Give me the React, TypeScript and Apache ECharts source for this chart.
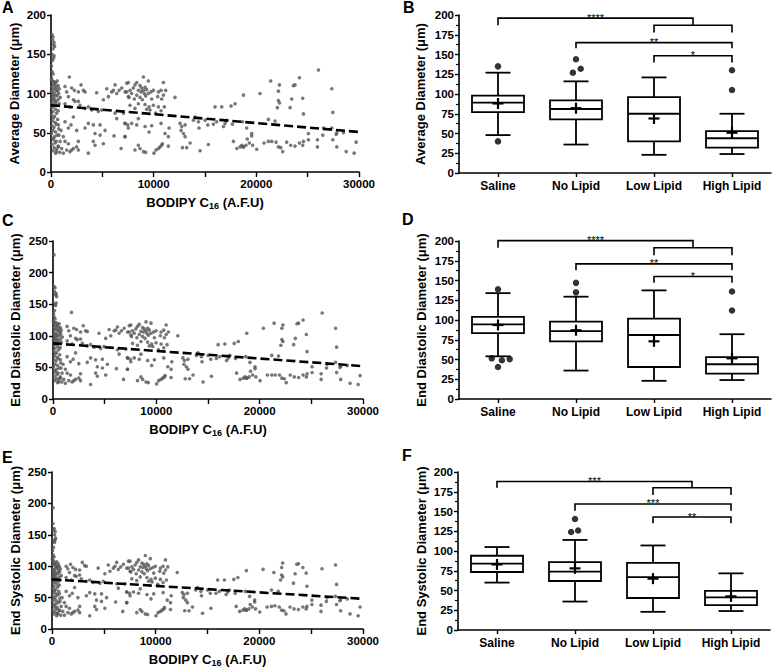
import React, { useEffect, useRef } from 'react';
import * as echarts from 'echarts';

// ---------- scatter data (A, C, E share the BODIPY C16 x values) ----------
const BODIPY_X = [
  100,200,150,300,250,350,200,100,300,250,150,50,100,200,50,
  50,150,300,450,600,250,400,700,100,550,350,800,200,500,650,50,300,750,150,450,600,250,900,100,350,700,200,500,50,400,800,150,600,300,100,450,700,200,550,50,350,250,650,150,400,500,100,300,750,200,450,50,600,350,150,250,500,400,100,700,300,550,200,850,450,
  1790,1365,1530,2015,2275,2925,2665,3150,3315,2180,2340,2665,2830,1690,1365,1850,3315,3640,3965,4450,5100,5430,5590,5915,6080,6240,6400,6630,6890,7215,7380,7540,6240,6400,7050,7215,7475,4615,4780,4940,1365,1690,1950,2180,2500,3315,3640,4125,4290,4780,5265,5100,4125,4290,3640,6140,6825,7215,2665,2500,2180,2015,1850,1690,1530,1200,1040,880,715,550,2665,1365,1200,975,780,715,
  9000,7530,8350,9480,10950,11170,12080,8180,8670,8830,9000,9160,9320,9090,8770,8510,8020,7700,7370,7860,8350,8670,9220,9480,9740,9970,10460,10720,10390,10780,10950,9810,8900,8120,7600,8510,9160,9550,9320,9650,9970,10460,11040,8180,7700,10200,10720,7200,7530,7860,8350,8510,9160,9550,9810,10720,11110,11500,11430,8180,8510,8670,9000,9220,10030,10230,10460,10620,10780,10850,11430,7200,
  12570,12730,12670,13060,12900,13060,12800,13220,13550,13870,14030,14360,14420,14520,15010,15270,15330,15820,15980,16140,16630,16800,16960,17120,17540,17670,17930,17770,18100,18420,18580,18650,18750,18750,
  20360,21400,22250,22150,22150,22250,22050,23610,23770,24200,23450,23290,24520,24590,26050,27350,27450,21170,21820,19060,19120,19550,19550,18730,18990,19320,19640,20040,20750,21170,21500,21920,22150,22380,22570,22960,23350,23770,24200,24520,24590,25070,25070,25950,25950,26470,27840,27450,27840,27770,28490,28750,29530,29720,27350,26540,
];

const AVG_Y = [
  175,172,168,165,162,160,157,150,148,145,142,135,128,125,120,
  117,116,115,114,116,112,111,110,109,108,107,106,105,104,103,102,101,100,99,98,97,96,95,94,93,92,91,90,89,88,87,86,85,84,82,80,78,77,75,73,71,69,67,65,63,61,59,57,55,53,51,49,47,45,43,41,39,37,35,33,31,29,27,25,24,
  121,109,102,107,104,111,102,104,102,92,90,90,85,96,87,83,81,83,79,101,92,106,96,102,104,111,100,104,107,102,113,96,75,68,75,62,60,77,60,79,64,56,60,70,53,56,62,60,49,47,53,36,39,34,24,46,30,45,39,32,30,28,26,36,28,24,30,39,32,26,28,39,45,53,47,60,
  121,114,114,116,114,104,95,111,110,107,104,108,105,100,102,104,107,104,102,100,98,95,97,100,102,104,102,104,96,93,98,93,92,93,95,87,86,83,80,79,85,83,83,81,85,75,78,62,56,62,60,68,58,51,59,62,49,56,45,28,34,30,26,25,24,28,30,32,34,36,33,45,
  62,58,53,60,49,45,31,31,37,66,70,64,56,27,66,60,35,61,83,64,83,58,62,66,84,61,87,39,30,32,34,64,98,32,
  100,116,111,103,91,88,82,110,111,120,93,82,94,74,130,106,76,67,65,56,42,49,46,32,34,37,34,29,37,39,39,38,32,31,26,38,34,33,37,34,39,49,41,41,32,47,32,41,50,48,50,26,24,38,56,56,
];

const EDD_Y = [
  178,176,170,167,165,162,150,228,152,148,140,135,130,127,124,
  122,120,121,118,119,116,115,113,114,112,110,109,110,108,106,105,104,103,102,101,100,99,98,97,96,95,94,93,92,91,90,89,88,87,85,83,81,80,78,76,74,72,70,68,66,64,62,60,57,55,53,51,49,47,45,43,41,39,37,35,33,31,29,27,26,
  137,115,108,112,110,116,106,108,107,96,94,95,88,100,92,87,84,86,82,104,96,110,100,108,109,114,104,108,112,106,116,101,78,71,79,65,63,80,63,83,67,59,63,73,56,58,65,62,51,49,55,38,41,36,23,48,31,47,40,33,31,29,27,38,29,25,31,41,33,27,29,41,47,55,49,62,
  122,117,118,120,117,106,100,115,113,111,108,112,109,104,106,107,111,108,106,104,102,99,101,104,106,108,106,109,100,97,102,97,96,97,99,91,90,87,84,83,89,87,86,85,88,78,81,65,59,65,63,71,61,53,62,65,51,59,47,29,35,31,27,26,24,29,31,33,35,37,34,47,
  65,61,55,63,51,47,32,32,38,69,73,67,59,27,69,63,36,64,86,67,87,61,65,69,88,64,91,41,31,33,35,67,104,33,
  112,120,117,112,94,91,85,119,120,125,96,86,102,75,136,112,82,69,68,58,44,51,48,33,35,38,35,29,38,38,38,38,33,32,26,38,35,34,38,35,40,51,42,40,31,49,31,42,52,50,53,25,23,37,58,55,
];

const ESD_Y = [
  168,160,158,155,150,145,140,193,142,138,130,125,118,115,112,
  110,108,105,107,104,103,101,100,102,99,98,96,95,97,93,94,92,91,90,88,89,87,85,86,84,83,82,80,81,79,78,77,76,75,73,72,70,68,67,65,63,61,60,58,56,54,52,50,49,47,45,44,42,40,38,36,34,32,30,29,27,25,24,22,21,
  103,100,96,98,95,106,94,101,100,85,84,86,80,90,82,78,76,78,74,97,88,102,92,97,100,106,95,99,103,97,108,92,72,65,72,59,57,73,56,76,60,53,57,66,50,53,58,56,46,44,50,33,36,31,21,43,28,42,36,30,28,26,24,33,26,22,28,36,30,24,26,36,42,50,44,56,
  117,108,110,112,110,99,90,106,105,103,100,104,101,96,98,99,102,99,97,95,94,91,93,96,98,100,97,100,92,89,94,89,88,88,91,83,82,79,76,75,81,79,78,77,80,71,74,59,53,59,57,64,55,48,56,58,46,53,42,26,31,28,24,23,21,26,28,30,32,34,31,42,
  58,55,50,57,46,42,29,29,35,62,66,60,53,25,62,57,33,57,78,60,78,55,59,62,79,57,82,36,28,30,32,60,93,30,
  95,90,105,98,86,83,78,103,104,98,88,73,89,68,96,102,71,62,60,52,39,46,43,30,32,35,32,27,35,36,37,35,30,29,24,35,32,31,35,32,36,46,39,38,28,44,29,39,47,45,48,24,21,35,52,50,
];

// linear fits (dashed lines)
const AVG_FIT = [[0, 85], [30000, 51]];
const EDD_FIT = [[0, 88], [30000, 52]];
const ESD_FIT = [[0, 79], [30000, 48]];

// ---------- box plot data ----------
const CATEGORIES = ['Saline', 'No Lipid', 'Low Lipid', 'High Lipid'];

// [min whisker, Q1, median, Q3, max whisker]
const AVG_BOX = [[48, 77, 89, 98, 127], [36, 68, 81, 92, 116], [23, 40, 75, 96, 121], [24, 32, 44, 53, 75]];
const AVG_MEAN = [88, 82, 69, 51];
const AVG_OUTLIERS = [[0, 135], [0, 40], [1, 144], [1.06, 132], [0.96, 127], [3, 130], [3, 105]];
// [x1, x2, y, left leg end, right leg end]
const AVG_BRACKETS = [[0, 2.5, 196, 187, 187], [2, 3, 187, 178, 178], [1, 3, 165, 158, 158], [2, 3, 148.5, 140, 140]];
const AVG_STARS = ['****', '', '**', '*'];

const EDD_BOX = [[54, 83.5, 94.5, 104, 134], [36, 73, 86, 98, 129.5], [23, 40.5, 81, 101.7, 137.5], [24, 32, 44, 53, 82]];
const EDD_MEAN = [93.7, 87, 73, 51.5];
const EDD_OUTLIERS = [[0, 139], [-0.08, 51.5], [0.05, 49], [0.15, 50.5], [0, 40.5], [1, 147], [1, 135], [3, 136], [3, 112]];
const EDD_BRACKETS = [[0, 2.5, 200.5, 191.5, 191.5], [2, 3, 191.5, 182, 182], [1, 3, 171, 163, 163], [2, 3, 155, 147, 147]];
const EDD_STARS = ['****', '', '**', '*'];

const ESD_BOX = [[60, 73.4, 84, 94, 105], [36, 62, 74, 86, 114], [23, 40.5, 67, 85, 107], [24, 31.6, 41.4, 49.4, 71.7]];
const ESD_MEAN = [83, 78, 65, 42.6];
const ESD_OUTLIERS = [[1, 140.5], [0.95, 124], [1.04, 126]];
const ESD_BRACKETS = [[0, 2.5, 188, 180, 180], [2, 3, 180, 171, 171], [1, 3, 159.5, 151, 151], [2, 3, 143, 135, 135]];
const ESD_STARS = ['***', '', '***', '**'];

const FONT = "'Liberation Sans', Arial, Helvetica, sans-serif";

const axisLine = { show: true, onZero: false, lineStyle: { color: '#000', width: 1.6 } };
const axisTick = { show: true, length: 4, lineStyle: { color: '#000', width: 1.4 } };
const labelStyle = { color: '#000', fontFamily: FONT, fontWeight: 'bold' as const, fontSize: 11.5 };
const nameStyle = { color: '#000', fontFamily: FONT, fontWeight: 'bold' as const, fontSize: 13 };

function scatterX(gridIndex: number) {
  return {
    type: 'value', gridIndex, min: 0, max: 30000, interval: 5000,
    axisLine, axisTick: { ...axisTick, length: 5 }, splitLine: { show: false },
    axisLabel: { ...labelStyle, margin: 6, formatter: (v: number) => (v % 10000 === 0 ? String(v) : '') },
    name: '{a|BODIPY C}{s|16}{a| (A.F.U)}', nameLocation: 'middle', nameGap: 22,
    nameTextStyle: {
      rich: {
        a: { ...nameStyle },
        s: { ...nameStyle, fontSize: 9, padding: [7, 0, 0, 0] },
      },
    },
  };
}

function valueY(gridIndex: number, max: number, interval: number, name: string, gap: number, minor: boolean) {
  return {
    type: 'value', gridIndex, min: 0, max, interval,
    axisLine, axisTick, splitLine: { show: false },
    minorTick: { show: minor, splitNumber: 2, length: 3, lineStyle: { color: '#000', width: 1.2 } },
    axisLabel: { ...labelStyle, margin: 5 },
    name, nameLocation: 'middle', nameGap: gap, nameTextStyle: nameStyle,
  };
}

function catX(gridIndex: number) {
  return {
    type: 'category', gridIndex, position: 'bottom', data: CATEGORIES, boundaryGap: true,
    axisLine, axisTick: { ...axisTick, alignWithLabel: true },
    axisLabel: { ...labelStyle, fontSize: 12, margin: 7 },
  };
}

function hiddenX(gridIndex: number) {
  return { type: 'value', gridIndex, position: 'top', min: -0.5, max: 3.5, show: false };
}

function scatterSeries(xAxisIndex: number, yAxisIndex: number, ys: number[], fit: number[][]) {
  const pts = BODIPY_X.map((x, i) => [x, ys[i]]).filter((p) => p[1] !== undefined);
  return [
    {
      type: 'scatter', xAxisIndex, yAxisIndex, data: pts, symbolSize: 3.6, silent: true,
      itemStyle: { color: '#555' },
    },
    {
      type: 'line', xAxisIndex, yAxisIndex, data: fit, symbol: 'none', silent: true, z: 5,
      lineStyle: { color: '#000', width: 2.6, type: [9, 4] },
    },
  ];
}

function boxSeries(xAxisIndex: number, yAxisIndex: number, box: number[][], mean: number[], outliers: number[][], brackets: number[][], stars: string[]) {
  const stroke = { stroke: '#000', lineWidth: 1.8, fill: 'none' };
  return [
    {
      type: 'custom', xAxisIndex, yAxisIndex, silent: true, z: 3,
      data: box.map((b, i) => [i, b[0], b[1], b[2], b[3], b[4], mean[i]]),
      renderItem: (_params: any, api: any) => {
        const i = api.value(0);
        const y = (k: number) => api.coord([i, api.value(k)])[1];
        const xc = api.coord([i, 0])[0];
        const yMin = y(1), yQ1 = y(2), yMed = y(3), yQ3 = y(4), yMax = y(5), yMean = y(6);
        const hw = 26, cw = 12.5, mw = 5.5;
        return {
          type: 'group',
          children: [
            { type: 'rect', shape: { x: xc - hw, y: yQ3, width: 2 * hw, height: yQ1 - yQ3 }, style: stroke },
            { type: 'line', shape: { x1: xc - hw, y1: yMed, x2: xc + hw, y2: yMed }, style: stroke },
            { type: 'line', shape: { x1: xc, y1: yQ3, x2: xc, y2: yMax }, style: stroke },
            { type: 'line', shape: { x1: xc, y1: yQ1, x2: xc, y2: yMin }, style: stroke },
            { type: 'line', shape: { x1: xc - cw, y1: yMax, x2: xc + cw, y2: yMax }, style: stroke },
            { type: 'line', shape: { x1: xc - cw, y1: yMin, x2: xc + cw, y2: yMin }, style: stroke },
            { type: 'line', shape: { x1: xc - mw, y1: yMean, x2: xc + mw, y2: yMean }, style: { ...stroke, lineWidth: 2.2 } },
            { type: 'line', shape: { x1: xc, y1: yMean - mw, x2: xc, y2: yMean + mw }, style: { ...stroke, lineWidth: 2.2 } },
          ],
        };
      },
    },
    {
      type: 'scatter', xAxisIndex, yAxisIndex, data: outliers, symbolSize: 6.5, silent: true, z: 4,
      itemStyle: { color: '#000' },
    },
    {
      type: 'custom', xAxisIndex, yAxisIndex, silent: true, z: 3,
      data: brackets,
      renderItem: (params: any, api: any) => {
        const x1 = api.value(0), x2 = api.value(1), yy = api.value(2), yl = api.value(3), yr = api.value(4);
        const p1 = api.coord([x1, yl]), p2 = api.coord([x1, yy]), p3 = api.coord([x2, yy]), p4 = api.coord([x2, yr]);
        const label = stars[params.dataIndex] || '';
        return {
          type: 'group',
          children: [
            { type: 'polyline', shape: { points: [p1, p2, p3, p4] }, style: { stroke: '#000', lineWidth: 1.6, fill: 'none' } },
            {
              type: 'text', x: (p2[0] + p3[0]) / 2, y: p2[1] + 5,
              style: { text: label, align: 'center', verticalAlign: 'bottom', fontSize: 11, fontFamily: FONT, fill: '#000' },
            },
          ],
        };
      },
    },
  ];
}

function panelLetter(text: string, left: number, top: number) {
  return {
    type: 'text', left, top,
    style: { text, fill: '#000', font: `bold 16px ${FONT}` },
  };
}

export default function App() {
  const ref = useRef<HTMLDivElement>(null);
  useEffect(() => {
    document.body.style.margin = '0';
    if (!ref.current) return;
    const chart = echarts.init(ref.current, undefined, { renderer: 'svg' });
    const option: any = {
      animation: false,
      backgroundColor: '#fff',
      grid: [
        { left: 51, top: 15, width: 308, height: 157 },
        { left: 459, top: 15, width: 312, height: 158 },
        { left: 53, top: 241, width: 310, height: 158 },
        { left: 459, top: 241, width: 312, height: 158 },
        { left: 52, top: 472, width: 311, height: 159 },
        { left: 458, top: 472, width: 312, height: 158 },
      ],
      xAxis: [
        scatterX(0),   // 0
        catX(1),       // 1
        hiddenX(1),    // 2
        scatterX(2),   // 3
        catX(3),       // 4
        hiddenX(3),    // 5
        scatterX(4),   // 6
        catX(5),       // 7
        hiddenX(5),    // 8
      ],
      yAxis: [
        valueY(0, 200, 50, 'Average Diameter (μm)', 30, false),
        valueY(1, 200, 25, 'Average Diameter (μm)', 32, true),
        valueY(2, 250, 50, 'End Diastolic Diameter (μm)', 31, false),
        valueY(3, 200, 25, 'End Diastolic Diameter (μm)', 31, true),
        valueY(4, 250, 50, 'End Systolic Diameter (μm)', 30, false),
        valueY(5, 200, 25, 'End Systolic Diameter (μm)', 30, true),
      ],
      series: [
        ...scatterSeries(0, 0, AVG_Y, AVG_FIT),
        ...boxSeries(2, 1, AVG_BOX, AVG_MEAN, AVG_OUTLIERS, AVG_BRACKETS, AVG_STARS),
        ...scatterSeries(3, 2, EDD_Y, EDD_FIT),
        ...boxSeries(5, 3, EDD_BOX, EDD_MEAN, EDD_OUTLIERS, EDD_BRACKETS, EDD_STARS),
        ...scatterSeries(6, 4, ESD_Y, ESD_FIT),
        ...boxSeries(8, 5, ESD_BOX, ESD_MEAN, ESD_OUTLIERS, ESD_BRACKETS, ESD_STARS),
      ],
      graphic: [
        panelLetter('A', 2, -1),
        panelLetter('B', 403, -1),
        panelLetter('C', 2, 212),
        panelLetter('D', 402, 211),
        panelLetter('E', 2, 449),
        panelLetter('F', 402, 447),
      ],
    };
    chart.setOption(option);
    return () => chart.dispose();
  }, []);
  return <div ref={ref} style={{ width: 772, height: 668 }} />;
}
